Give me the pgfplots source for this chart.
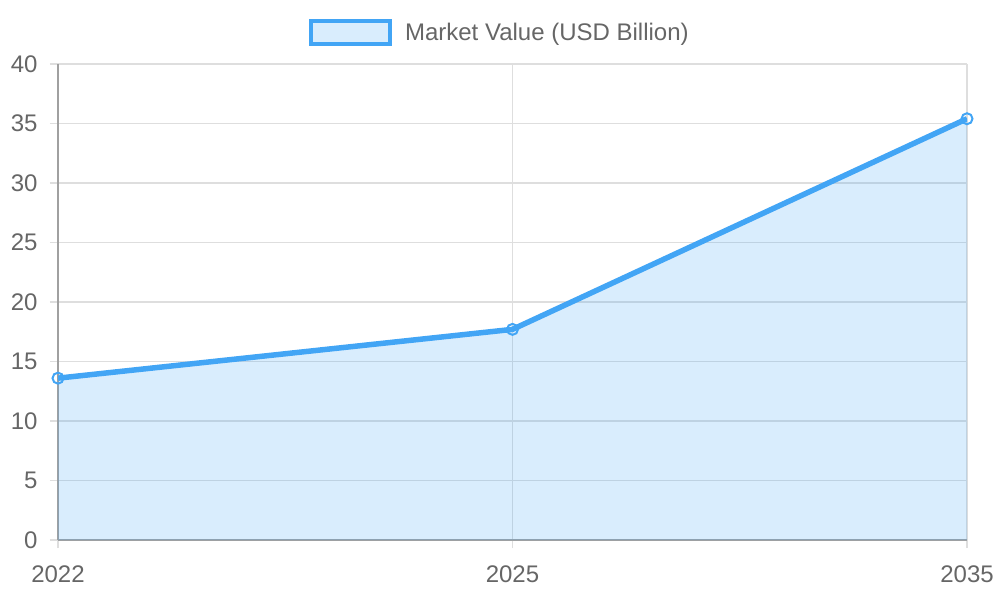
\documentclass[border=0pt]{standalone}
\usepackage{fontspec}
\setmainfont{Liberation Sans}
\usepackage{pgfplots}
\pgfplotsset{compat=1.18}
\definecolor{mblue}{HTML}{42A5F5}
\definecolor{mfill}{HTML}{D9EDFD}
\definecolor{tickgray}{HTML}{666666}
\definecolor{gridgray}{HTML}{DEDEDE}
\definecolor{axisgray}{HTML}{A0A0A0}
\begin{document}
\begin{tikzpicture}
\path[use as bounding box] (-58bp,-60bp) rectangle (942bp,540bp);
\begin{axis}[
    at={(0,0)}, anchor=south west,
    scale only axis,
    width=909bp, height=476bp,
    xmin=0, xmax=2,
    ymin=0, ymax=40,
    xtick={0,1,2},
    xticklabels={2022,2025,2035},
    ytick={0,5,...,40},
    font=\fontsize{24bp}{28bp}\selectfont,
    /pgf/number format/assume math mode=true,
    tick label style={text=tickgray},
    yticklabel style={xshift=-9bp},
    xticklabel style={yshift=-14bp},
    tick align=outside,
    major tick length=8bp,
    tick style={gridgray, line width=1.3bp},
    grid=major,
    grid style={gridgray, line width=1.3bp},
    axis line style={axisgray, line width=1.5bp},
    axis x line*=bottom,
    axis y line*=left,
    separate axis lines,
    x axis line style={-},
    y axis line style={-},
    legend style={at={(0.5,1)}, anchor=south, xshift=-12.5bp, yshift=16bp,
        draw=none, fill=none, text=tickgray,
        legend cell align=left},
    legend image code/.code={
        \draw[line width=4bp, draw=mblue, fill=mfill] (0bp,-11.5bp) rectangle (79bp,11.5bp);
        \path (89bp,0bp);
    },
]
\addplot[draw=none, fill=mblue, fill opacity=0.2, forget plot]
    coordinates {(0,13.6) (1,17.7) (2,35.4)} \closedcycle;
\addplot[mblue, line width=5.5bp,
    mark=o, mark size=5.5bp,
    mark options={line width=2bp, fill=mfill}]
    coordinates {(0,13.6) (1,17.7) (2,35.4)};
\addlegendentry{Market Value (USD Billion)}
\end{axis}
\end{tikzpicture}
\end{document}
